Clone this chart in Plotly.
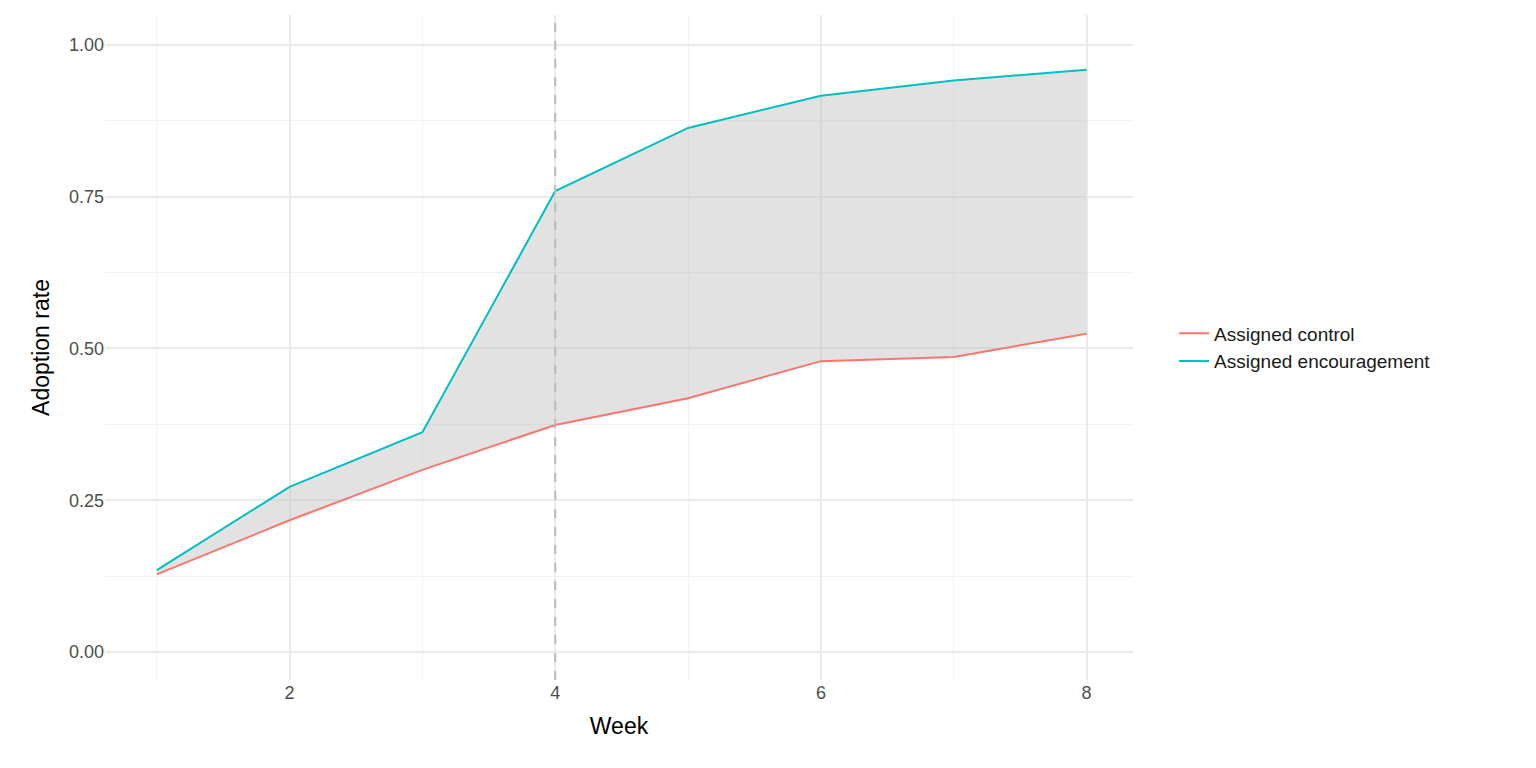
import plotly.graph_objects as go

weeks = [1, 2, 3, 4, 5, 6, 7, 8]
control = [0.128, 0.217, 0.300, 0.374, 0.418, 0.479, 0.486, 0.524]
encourage = [0.135, 0.272, 0.362, 0.759, 0.863, 0.916, 0.941, 0.959]

fig = go.Figure()
fig.add_trace(go.Scatter(x=weeks, y=control, mode="lines", line=dict(width=0), showlegend=False, hoverinfo="skip"))
fig.add_trace(go.Scatter(x=weeks, y=encourage, mode="lines", line=dict(width=0), fill="tonexty",
                         fillcolor="rgba(190,190,190,0.45)", showlegend=False, hoverinfo="skip"))
fig.add_trace(go.Scatter(x=weeks, y=control, mode="lines", name="Assigned control", line=dict(color="#F8766D", width=2)))
fig.add_trace(go.Scatter(x=weeks, y=encourage, mode="lines", name="Assigned encouragement", line=dict(color="#00BFC4", width=2)))
fig.add_vline(x=4, line=dict(color="#BBBBBB", dash="dash", width=2))

fig.update_layout(
    width=1536, height=768, plot_bgcolor="white", paper_bgcolor="white",
    margin=dict(l=97, r=411, t=7, b=96),
    font=dict(family="Liberation Sans, Arial", size=18, color="#4D4D4D"),
    legend=dict(x=1.04, y=0.5, yanchor="middle", traceorder="normal",
                font=dict(size=19, color="#1A1A1A"), tracegroupgap=8),
    xaxis=dict(title=dict(text="Week", font=dict(size=23, color="black")), range=[0.61, 8.35],
               tickvals=[2, 4, 6, 8], showgrid=True, gridcolor="#EBEBEB", gridwidth=2, zeroline=False,
               minor=dict(tickvals=[1, 3, 5, 7], showgrid=True, gridcolor="#F2F2F2", gridwidth=1), ticks=""),
    yaxis=dict(title=dict(text="Adoption rate", font=dict(size=23, color="black"), standoff=12), range=[-0.046, 1.049],
               tickvals=[0, 0.25, 0.5, 0.75, 1.0], ticktext=["0.00", "0.25", "0.50", "0.75", "1.00"],
               showgrid=True, gridcolor="#EBEBEB", gridwidth=2, zeroline=False,
               minor=dict(tickvals=[0.125, 0.375, 0.625, 0.875], showgrid=True, gridcolor="#F2F2F2", gridwidth=1), ticks=""),
)
fig.write_html("out.html")
